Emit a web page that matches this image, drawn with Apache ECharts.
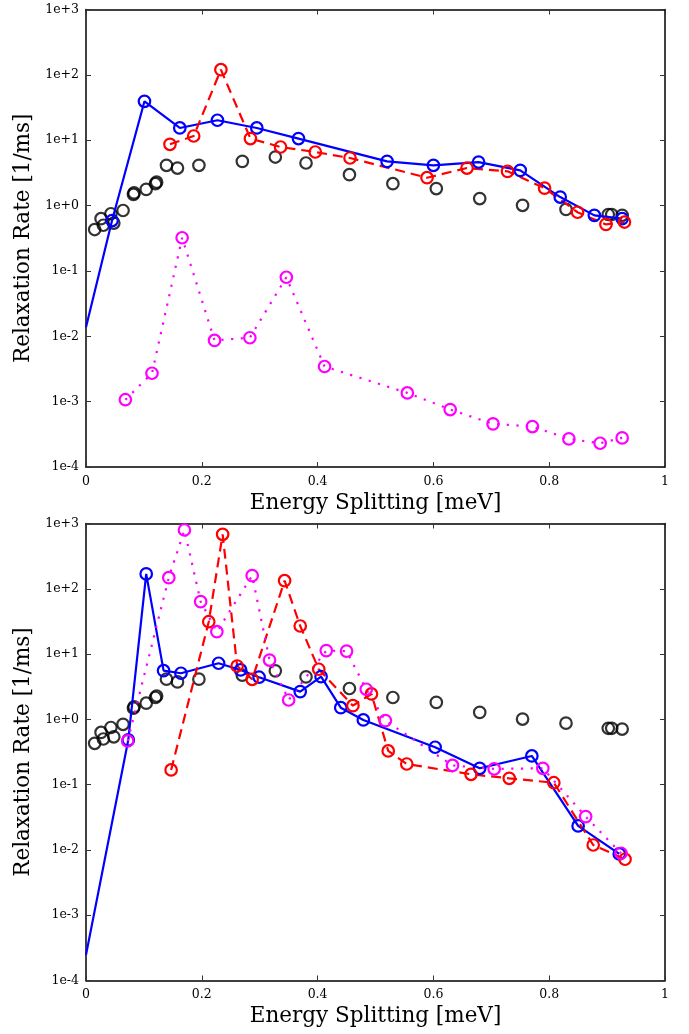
<!DOCTYPE html>
<html><head><meta charset="utf-8">
<script src="https://cdn.jsdelivr.net/npm/echarts@6.0.0/dist/echarts.min.js"></script>
<style>html,body{margin:0;padding:0;background:#fff}#c{width:689px;height:1034px}</style>
</head><body><div id="c"></div>
<script>
// ---- data ----
const xTickValues = [0, 0.2, 0.4, 0.6, 0.8, 1];
const yTickLabels = ['1e-4','1e-3','1e-2','1e-1','1e+0','1e+1','1e+2','1e+3'];
const xTitle = 'Energy Splitting [meV]';
const yTitle = 'Relaxation Rate [1/ms]';

// black circles (same in both panels)
const blackPts = [[0.015,0.43],[0.026,0.63],[0.030,0.50],[0.043,0.75],[0.048,0.54],[0.064,0.84],
  [0.082,1.48],[0.083,1.56],[0.104,1.77],[0.120,2.16],[0.122,2.28],[0.139,4.13],[0.158,3.75],
  [0.195,4.13],[0.270,4.75],[0.327,5.53],[0.380,4.48],[0.455,2.97],[0.530,2.16],[0.605,1.82],
  [0.680,1.28],[0.754,1.01],[0.829,0.875],[0.902,0.73],[0.908,0.73],[0.926,0.71]];

// top panel
const topBlue = [[0,0.0138],[0.045,0.59],[0.101,39.4],[0.162,15.4],[0.227,20.2],[0.295,15.4],
  [0.367,10.6],[0.520,4.75],[0.600,4.13],[0.678,4.63],[0.750,3.46],[0.819,1.35],[0.878,0.708],[0.926,0.63]];
const topRed = [[0.145,8.65],[0.186,11.6],[0.233,120],[0.284,10.6],[0.336,7.87],[0.396,6.6],
  [0.456,5.34],[0.589,2.67],[0.658,3.75],[0.728,3.34],[0.792,1.85],[0.849,0.79],[0.898,0.515],[0.930,0.56]];
const topMagenta = [[0.068,0.00107],[0.114,0.00272],[0.166,0.322],[0.222,0.00863],[0.283,0.0095],
  [0.346,0.080],[0.412,0.00345],[0.555,0.00136],[0.629,0.000757],[0.703,0.000457],[0.771,0.000416],
  [0.834,0.000269],[0.888,0.000231],[0.926,0.000279]];

// bottom panel
const botBlue = [[0,0.000247],[0.073,0.484],[0.104,169],[0.134,5.57],[0.164,5.08],[0.229,7.23],
  [0.267,5.71],[0.299,4.42],[0.370,2.66],[0.406,4.51],[0.440,1.51],[0.479,0.98],[0.603,0.374],
  [0.680,0.178],[0.770,0.275],[0.850,0.0233],[0.921,0.0087]];
const botRed = [[0.147,0.168],[0.212,31.3],[0.236,683],[0.261,6.57],[0.287,4.11],[0.343,133],
  [0.370,26.9],[0.402,5.85],[0.461,1.62],[0.493,2.45],[0.522,0.328],[0.554,0.207],[0.665,0.144],
  [0.731,0.125],[0.808,0.107],[0.876,0.0119],[0.931,0.0072]];
const botMagenta = [[0.072,0.467],[0.143,148],[0.170,795],[0.198,63.5],[0.226,22],[0.287,159],
  [0.317,8.1],[0.350,1.98],[0.415,11.3],[0.450,11.1],[0.484,2.89],[0.517,0.955],[0.633,0.197],
  [0.705,0.174],[0.789,0.178],[0.863,0.0324],[0.924,0.0089]];

// ---- chart ----
const serif = 'DejaVu Serif';
const grids = [
  {left: 86, top: 9.5, width: 579, height: 457.5, containLabel: false, outerBoundsMode: 'none'},
  {left: 86, top: 523.5, width: 579, height: 457, containLabel: false, outerBoundsMode: 'none'}
];
function xAxes(gi) {
  return [
    {type:'value', gridIndex:gi, min:0, max:1, interval:0.2, position:'bottom',
     name: xTitle, nameLocation:'middle', nameGap: 25,
     nameTextStyle:{fontFamily:serif, fontSize:21.5, color:'#000'},
     axisLine:{show:true, onZero:false, lineStyle:{color:'#000', width:1.5}},
     axisTick:{show:true, inside:true, length:5, lineStyle:{color:'#333', width:1}},
     axisLabel:{show:true, margin:8, fontFamily:serif, fontSize:12.5, color:'#000',
       formatter: v => { const i = xTickValues.findIndex(t => Math.abs(t - v) < 1e-9); return i >= 0 ? String(xTickValues[i]) : ''; }},
     splitLine:{show:false}},
    {type:'value', gridIndex:gi, min:0, max:1, interval:0.2, position:'top',
     axisLine:{show:true, onZero:false, lineStyle:{color:'#000', width:1.5}},
     axisTick:{show:true, inside:true, length:5, lineStyle:{color:'#333', width:1}},
     axisLabel:{show:false}, splitLine:{show:false}}
  ];
}
function yAxes(gi) {
  return [
    {type:'log', logBase:10, gridIndex:gi, min:1e-4, max:1e3, interval:1, position:'left',
     name: yTitle, nameLocation:'middle', nameGap: 51, nameRotate: 90,
     nameTextStyle:{fontFamily:serif, fontSize:21.5, color:'#000'},
     axisLine:{show:true, onZero:false, lineStyle:{color:'#000', width:1.5}},
     axisTick:{show:true, inside:true, length:5, lineStyle:{color:'#333', width:1}},
     axisLabel:{show:true, margin:7, fontFamily:serif, fontSize:12.5, color:'#000',
       padding:[8,0,0,0],
       formatter: v => { const e = Math.round(Math.log10(v)); return yTickLabels[e + 4] || ''; }},
     splitLine:{show:false}, minorTick:{show:false}},
    {type:'log', logBase:10, gridIndex:gi, min:1e-4, max:1e3, interval:1, position:'right',
     axisLine:{show:true, onZero:false, lineStyle:{color:'#000', width:1.5}},
     axisTick:{show:true, inside:true, length:5, lineStyle:{color:'#333', width:1}},
     axisLabel:{show:false}, splitLine:{show:false}}
  ];
}
function ser(data, color, lineType, gi, withLine, hideFirst) {
  const d = data.map((p, i) => (hideFirst && i === 0) ? {value: p, symbol: 'none'} : {value: p});
  const s = {
    type: withLine ? 'line' : 'scatter',
    xAxisIndex: gi * 2, yAxisIndex: gi * 2,
    data: d, symbol: 'circle', symbolSize: 11.5,
    itemStyle: {color: 'rgba(0,0,0,0)', borderColor: color, borderWidth: 2.2},
    animation: false, silent: true
  };
  if (withLine) {
    s.lineStyle = {color: color, width: 2.2, type: lineType, cap: 'butt'};
    s.showAllSymbol = true;
    s.emphasis = {disabled: true};
  }
  return s;
}
const chart = echarts.init(document.getElementById('c'), null, {renderer: 'canvas'});
chart.setOption({
  backgroundColor: '#fff',
  animation: false,
  grid: grids,
  xAxis: [...xAxes(0), ...xAxes(1)],
  yAxis: [...yAxes(0), ...yAxes(1)],
  series: [
    ser(blackPts, '#000', 'solid', 0, false),
    ser(topBlue, '#0000ff', 'solid', 0, true, true),
    ser(topRed, '#ff0000', [10, 6], 0, true),
    ser(topMagenta, '#ff00ff', [2.2, 7.5], 0, true),
    ser(blackPts, '#000', 'solid', 1, false),
    ser(botBlue, '#0000ff', 'solid', 1, true, true),
    ser(botRed, '#ff0000', [10, 6], 1, true),
    ser(botMagenta, '#ff00ff', [2.2, 7.5], 1, true)
  ]
});
</script></body></html>
